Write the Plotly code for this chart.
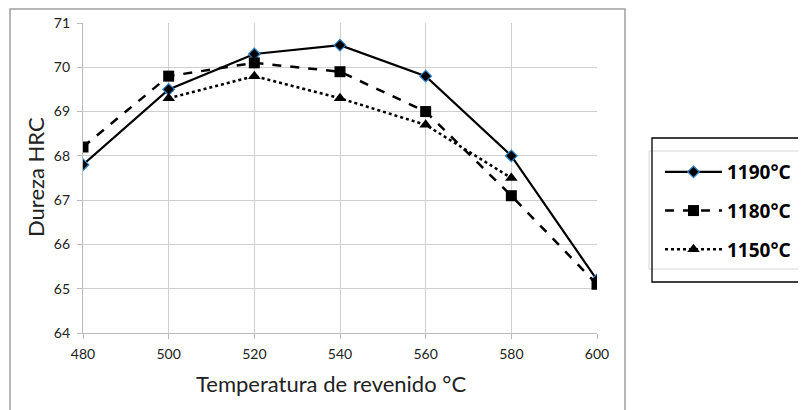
import plotly.graph_objects as go

temps = [480, 500, 520, 540, 560, 580, 600]
hrc_1190 = [67.8, 69.5, 70.3, 70.5, 69.8, 68.0, 65.2]
hrc_1180 = [68.2, 69.8, 70.1, 69.9, 69.0, 67.1, 65.1]
temps_1150 = [500, 520, 540, 560, 580]
hrc_1150 = [69.3, 69.8, 69.3, 68.7, 67.5]

x_ticks = [480, 500, 520, 540, 560, 580, 600]
y_ticks = [64, 65, 66, 67, 68, 69, 70, 71]

OFF = 8  # default body margin of the page
W, H = 806, 410
# target plot area in page pixels: x 83..597, y 23..333
L = 83 - OFF
T = 23 - OFF
R = W - (597 - OFF)
B = H - (333 - OFF)
pw, ph = W - L - R, H - T - B

def px(xp):
    return (xp - OFF - L) / pw

def py(yp):
    return (H - B - (yp - OFF)) / ph

fig = go.Figure()
fig.add_trace(go.Scatter(
    x=temps, y=hrc_1190, name="1190°C", mode="lines+markers", legendgroup="a",
    line=dict(color="black", width=2.2),
    marker=dict(symbol="diamond", size=9, color="black", line=dict(color="#2e86c8", width=1.2)),
))
fig.add_trace(go.Scatter(
    x=temps, y=hrc_1180, name="1180°C", mode="lines+markers", legendgroup="b",
    line=dict(color="black", width=2.5, dash="dash"),
    marker=dict(symbol="square", size=11, color="black"),
))
fig.add_trace(go.Scatter(
    x=temps_1150, y=hrc_1150, name="1150°C", mode="lines+markers", legendgroup="c",
    line=dict(color="black", width=2.5, dash="dot"),
    marker=dict(symbol="triangle-up", size=11, color="black"),
))

shapes = [
    dict(type="rect", xref="paper", yref="paper", x0=px(10), x1=px(625), y0=py(430), y1=py(9),
         line=dict(color="#a0a0a0", width=1.5), layer="below"),
    dict(type="rect", xref="paper", yref="paper", x0=px(649), x1=px(830), y0=py(269), y1=py(151),
         line=dict(color="#d8d8d8", width=1)),
    dict(type="rect", xref="paper", yref="paper", x0=px(652), x1=px(830), y0=py(282), y1=py(138),
         line=dict(color="black", width=1.3)),
]

axis_common = dict(
    ticks="outside", ticklen=5, tickcolor="#bbb",
    showgrid=True, gridcolor="#cfcfcf", gridwidth=1.2,
    showline=True, linecolor="#bbb", linewidth=1.2,
    zeroline=False, automargin=False,
    tickfont=dict(family="Lato", size=14, color="#222"),
)

annotations = [
    dict(text="Temperatura de revenido °C", xref="paper", yref="paper",
         x=px(331), y=py(383), xanchor="center", yanchor="middle", showarrow=False,
         font=dict(family="Lato", size=22, color="#222")),
    dict(text="Dureza HRC", xref="paper", yref="paper", textangle=-90,
         x=px(35), y=py(177), xanchor="center", yanchor="middle", showarrow=False,
         font=dict(family="Lato", size=22, color="#222")),
]

fig.update_layout(
    width=W, height=H,
    margin=dict(l=L, r=R, t=T, b=B),
    paper_bgcolor="white", plot_bgcolor="white",
    font=dict(family="Lato", color="#222"),
    showlegend=True,
    legend=dict(
        x=px(660), y=py(153), xanchor="left", yanchor="top",
        bgcolor="rgba(0,0,0,0)", borderwidth=0,
        font=dict(family="Noto Sans", size=19, color="black", weight="bold"),
        itemwidth=57, tracegroupgap=11, itemsizing="trace",
    ),
    xaxis=dict(
        range=[480, 600], tickvals=x_ticks, ticklabelstandoff=3,
        **axis_common,
    ),
    yaxis=dict(
        range=[64, 71], tickvals=y_ticks, ticklabelstandoff=4,
        **axis_common,
    ),
    shapes=shapes,
    annotations=annotations,
)

fig.write_html("out.html")
